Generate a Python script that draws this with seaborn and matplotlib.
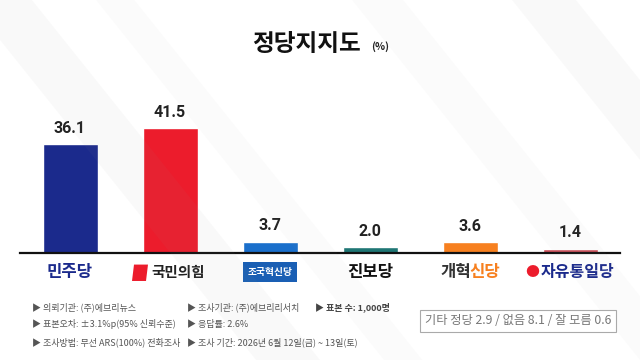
import matplotlib
matplotlib.use("Agg")
import matplotlib.pyplot as plt
import matplotlib.patches as mpatches
import seaborn as sns

# 정당지지도 데이터
parties = ["민주당", "국민의힘", "조국혁신당", "진보당", "개혁신당", "자유통일당"]
support = [36.1, 41.5, 3.7, 2.0, 3.6, 1.4]
bar_colors = ["#1b2a8c", "#ec1c2c", "#1a6fcb", "#1f7674", "#f7801f", "#cc4f59"]

notes_left = ["의뢰기관: (주)에브리뉴스", "표본오차: ±3.1%p(95% 신뢰수준)", "조사방법: 무선 ARS(100%) 전화조사"]
notes_mid = ["조사기관: (주)에브리리서치", "응답률: 2.6%", "조사 기간: 2026년 6월 12일(금) ~ 13일(토)"]
note_sample = "표본 수: 1,000명"
others_text = "기타 정당 2.9 / 없음 8.1 / 잘 모름 0.6"

sns.set_theme(style="white")
plt.rcParams['font.family'] = ['Noto Sans CJK KR', 'DejaVu Sans']

fig = plt.figure(figsize=(6.4, 3.6), dpi=100)
fig.patch.set_facecolor("white")

# 배경의 옅은 사선 무늬
for x0, w, a in [(-0.05, 0.10, 0.05), (0.15, 0.06, 0.035), (0.55, 0.08, 0.035), (0.80, 0.10, 0.05)]:
    fig.patches.append(mpatches.Polygon(
        [(x0, 1.0), (x0 + w, 1.0), (x0 + w + 0.45, 0.0), (x0 + 0.45, 0.0)],
        closed=True, transform=fig.transFigure, facecolor="#9a9a9a", alpha=a,
        edgecolor="none", zorder=0))

ax = fig.add_axes([20 / 640, 1 - 253 / 360, 600 / 640, 193 / 360])
ax.patch.set_alpha(0)

sns.barplot(x=parties, y=support, hue=parties, palette=bar_colors,
            width=0.55, legend=False, saturation=1, ax=ax)

ax.set_xlim(-0.5, 5.5)
ax.set_ylim(0, 64.1)
for s in ["top", "left", "right"]:
    ax.spines[s].set_visible(False)
ax.spines["bottom"].set_color("#111111")
ax.spines["bottom"].set_linewidth(1.6)
ax.set_yticks([])
ax.set_xticks(range(len(parties)))
ax.set_xticklabels([])
ax.tick_params(axis="x", length=0)
ax.set_xlabel("")

for i, v in enumerate(support):
    ax.text(i, v + 2.8, f"{v:.1f}", ha="center", va="bottom",
            fontsize=11.5, fontweight="bold", color="#222222",
            family=["Roboto", "DejaVu Sans"])

# 정당 이름 (로고 느낌)
tr = ax.get_xaxis_transform()
ly = -0.10
kw = dict(va="center", fontweight="bold", transform=tr, clip_on=False)
ax.text(0, ly, parties[0], ha="center", fontsize=12, color="#1b2a8c", **kw)
ax.add_patch(mpatches.Polygon([(0.62, -0.145), (0.76, -0.145), (0.78, -0.06), (0.64, -0.06)],
                              closed=True, transform=tr, clip_on=False,
                              facecolor="#ec1c2c", edgecolor="none"))
ax.text(1.08, ly, parties[1], ha="center", fontsize=10.5, color="#222222", **kw)
ax.text(2, ly, parties[2], ha="center", fontsize=7, color="white",
        bbox=dict(boxstyle="square,pad=0.5", facecolor="#1a5fb4", edgecolor="none"), **kw)
ax.text(3, ly, parties[3], ha="center", fontsize=12, color="#111111", **kw)
ax.text(4.01, ly, parties[4][:2], ha="right", fontsize=12, color="#333333", **kw)
ax.text(3.99, ly, parties[4][2:], ha="left", fontsize=12, color="#f7801f", **kw)
ax.text(4.62, ly, "●", ha="center", fontsize=10, color="#ec1c2c", **kw)
ax.text(5.08, ly, parties[5], ha="center", fontsize=11.5, color="#1b2a8c", **kw)

# 제목
fig.text(306 / 640, 1 - 44 / 360, "정당지지도", fontsize=17, fontweight="bold",
         ha="center", va="center", color="#111111")
fig.text(371 / 640, 1 - 47 / 360, "(%)", fontsize=7.5, fontweight="bold",
         ha="left", va="center", color="#222222")

# 조사 개요
rows_y = [307, 324, 342]
for k, y in enumerate(rows_y):
    fig.text(32 / 640, 1 - y / 360, "▶ " + notes_left[k], fontsize=6.5,
             color="#555555", ha="left", va="center")
    fig.text(187 / 640, 1 - y / 360, "▶ " + notes_mid[k], fontsize=6.5,
             color="#555555", ha="left", va="center")
fig.text(315 / 640, 1 - 307 / 360, "▶ " + note_sample, fontsize=6.5,
         color="#444444", fontweight="bold", ha="left", va="center")

fig.text(518 / 640, 1 - 321 / 360, others_text, fontsize=8.8, color="#777777",
         ha="center", va="center",
         bbox=dict(boxstyle="square,pad=0.4", facecolor="white", edgecolor="#aaaaaa", lw=0.8))

fig.savefig("out.png", dpi=100)
